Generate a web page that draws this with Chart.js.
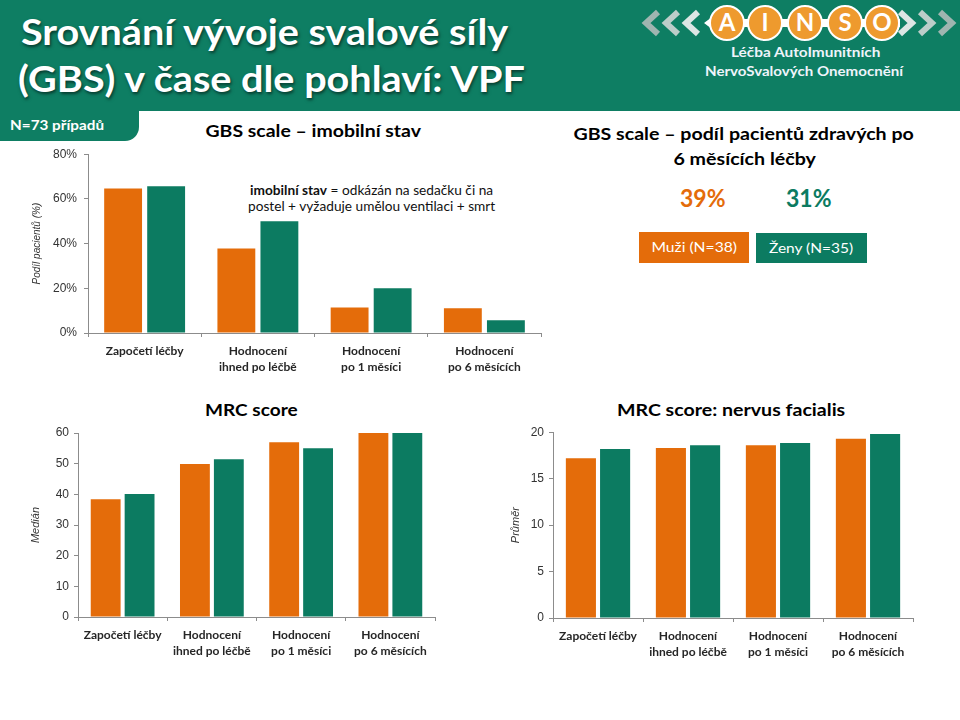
<!DOCTYPE html>
<html>
<head>
<meta charset="utf-8">
<script src="https://cdn.jsdelivr.net/npm/chart.js@4"></script>
<style>
  html,body{margin:0;padding:0;}
  body{width:960px;height:720px;position:relative;background:#fff;overflow:hidden;font-family:Lato,"Liberation Sans",sans-serif;}
  .abs{position:absolute;}
  .t{position:absolute;white-space:nowrap;line-height:1;transform-origin:50% 50%;}
  canvas{position:absolute;}
</style>
</head>
<body>
<div class="abs" style="left:0;top:0;width:960px;height:111px;background:#0E7E63;"></div>
<div class="abs" style="left:0;top:100px;width:139px;height:41px;background:#0E7E63;border-bottom-right-radius:14px;"></div>

<svg class="abs" style="left:620px;top:0" width="340" height="46">
  <g fill="none" stroke-width="6" stroke-linejoin="miter">
    <polyline points="38,12 26,23 38,34" stroke="#9fb5b0"/>
    <polyline points="58,12 46,23 58,34" stroke="#bccdc9"/>
    <polyline points="78,12 66,23 78,34" stroke="#dce6e4"/>
    <polyline points="280,12 292,23 280,34" stroke="#dce6e4"/>
    <polyline points="300,12 312,23 300,34" stroke="#bccdc9"/>
    <polyline points="320,12 332,23 320,34" stroke="#9fb5b0"/>
  </g>
  <polygon points="84,23 96,14 96,19 280,19 280,27 96,27 96,32" fill="#ffffff"/>
  <g stroke="#ffffff" stroke-width="2" fill="#EE9A2E">
    <circle cx="107" cy="23" r="17"/>
    <circle cx="145" cy="23" r="17"/>
    <circle cx="185" cy="23" r="17"/>
    <circle cx="225" cy="23" r="17"/>
    <circle cx="262" cy="23" r="17"/>
  </g>
  <g fill="#ffffff" font-family="Lato" font-weight="bold" font-size="24" text-anchor="middle">
    <text x="107" y="31">A</text>
    <text x="145" y="31">I</text>
    <text x="185" y="31">N</text>
    <text x="225" y="31">S</text>
    <text x="262" y="31">O</text>
  </g>
</svg>

<div id="texts"></div>

<canvas id="c1" width="560" height="240" style="left:0;top:140px;"></canvas>
<canvas id="c2" width="460" height="250" style="left:0;top:420px;"></canvas>
<canvas id="c3" width="480" height="250" style="left:480px;top:420px;"></canvas>

<script>
// ---------- data ----------
const categories = [["Započetí léčby"], ["Hodnocení", "ihned po léčbě"], ["Hodnocení", "po 1 měsíci"], ["Hodnocení", "po 6 měsících"]];
const seriesNames = ["Muži (N=38)", "Ženy (N=35)"];
const gbsMen   = [64.7, 37.8, 11.4, 11.1];
const gbsWomen = [65.7, 50.0, 20.0, 5.7];
const mrcMen   = [38.4, 49.9, 57.0, 60.0];
const mrcWomen = [40.1, 51.4, 55.0, 60.0];
const facMen   = [17.2, 18.3, 18.6, 19.3];
const facWomen = [18.2, 18.6, 18.85, 19.8];
const healthyShare = ["39%", "31%"];

const ORANGE = "#E46C0A";
const GREEN = "#0C7B61";
const AXIS = "#8c8c8c";

// ---------- html texts ----------
const host = document.getElementById('texts');
function txt(html, cx, cy, w, size, opts) {
  opts = opts || {};
  const d = document.createElement('div');
  d.className = 't';
  d.innerHTML = html;
  d.style.fontSize = size + 'px';
  d.style.fontWeight = opts.weight || 'normal';
  d.style.color = opts.color || '#000';
  d.style.fontFamily = opts.family || 'Lato';
  if (opts.shadow) d.style.textShadow = opts.shadow;
  host.appendChild(d);
  const ow = d.offsetWidth, oh = d.offsetHeight;
  d.style.left = (cx - ow / 2) + 'px';
  d.style.top = (cy - oh / 2) + 'px';
  const s = w ? w / ow : 1;
  d.style.transform = 'scaleX(' + s + ')';
  return d;
}
const SH = '1px 2px 3px rgba(0,0,0,0.55)';
txt('Srovnání vývoje svalové síly', 264, 31, 487, 36, {weight:'bold', color:'#fff', shadow:SH});
txt('(GBS) v čase dle pohlaví: VPF', 271, 78, 507, 36, {weight:'bold', color:'#fff', shadow:SH});
txt('Léčba AutoImunitních', 805, 53, 149, 12.5, {weight:'bold', color:'#eef4fb'});
txt('NervoSvalových Onemocnění', 804, 72, 198, 12.5, {weight:'bold', color:'#eef4fb'});
txt('N=73 případů', 57, 125, 94, 13, {weight:'bold', color:'#fff'});

txt('GBS scale – imobilní stav', 313, 130, 215, 17, {weight:'bold', color:'#000'});
txt('<b>imobilní stav</b> = odkázán na sedačku či na', 371.5, 190, 243, 13, {color:'#111'});
txt('postel + vyžaduje umělou ventilaci + smrt', 371.5, 206, 247, 13, {color:'#111'});

txt('GBS scale – podíl pacientů zdravých po', 743, 133, 340, 17, {weight:'bold', color:'#000'});
txt('6 měsících léčby', 744, 158, 142, 17, {weight:'bold', color:'#000'});
txt(healthyShare[0], 703, 198, 46, 24, {weight:'bold', color:ORANGE});
txt(healthyShare[1], 809, 198, 46, 24, {weight:'bold', color:GREEN});

const b1 = document.createElement('div'); b1.className='abs';
b1.style.cssText = 'left:639px;top:232px;width:110px;height:31px;background:' + ORANGE;
host.appendChild(b1);
const b2 = document.createElement('div'); b2.className='abs';
b2.style.cssText = 'left:756px;top:233px;width:111px;height:30px;background:' + GREEN;
host.appendChild(b2);
txt(seriesNames[0], 693.5, 247, 85, 14, {color:'#fff'});
txt(seriesNames[1], 811, 248, 84, 14, {color:'#fff'});

txt('MRC score', 251, 409, 93, 17, {weight:'bold', color:'#000'});
txt('MRC score: nervus facialis', 731, 409, 228, 17, {weight:'bold', color:'#000'});

// ---------- charts ----------
function makeChart(id, men, women, cfg) {
  return new Chart(document.getElementById(id), {
    type: 'bar',
    data: {
      labels: categories,
      datasets: [
        {label: seriesNames[0], data: men, backgroundColor: ORANGE, categoryPercentage: 0.76, barPercentage: 0.88},
        {label: seriesNames[1], data: women, backgroundColor: GREEN, categoryPercentage: 0.76, barPercentage: 0.88}
      ]
    },
    options: {
      responsive: false,
      animation: false,
      devicePixelRatio: 1,
      layout: {padding: {left: cfg.padL, right: cfg.padR, top: cfg.padT, bottom: 0}},
      plugins: {legend: {display: false}, tooltip: {enabled: false}},
      scales: {
        x: {
          grid: {display: true, drawOnChartArea: false, drawTicks: true, tickLength: 4, color: AXIS, offset: true},
          border: {display: true, color: AXIS},
          ticks: {font: {family: 'Lato', size: 12, weight: 'bold', lineHeight: 1.35}, color: '#262626', padding: 6, maxRotation: 0, autoSkip: false},
          afterFit(s) { s.height = cfg.xH; }
        },
        y: {
          min: 0, max: cfg.max,
          ticks: {stepSize: cfg.step, callback: cfg.fmt, font: {family: 'Liberation Sans', size: 12}, color: '#333', padding: cfg.tickPad},
          grid: {drawOnChartArea: false, drawTicks: true, tickLength: 4, color: AXIS},
          border: {display: true, color: AXIS},
          title: {display: true, text: cfg.title, font: {family: 'Liberation Sans', size: cfg.titleSize, style: 'italic'}, color: '#333', padding: 0},
          afterFit(s) { s.width = cfg.axisW; }
        }
      }
    }
  });
}

makeChart('c1', gbsMen, gbsWomen, {padL: 31, padR: 19, padT: 12, xH: 47, axisW: 57, max: 80, step: 20, fmt: v => v + '%', title: 'Podíl pacientů (%)', titleSize: 10, tickPad: 7});
makeChart('c2', mrcMen, mrcWomen, {padL: 29, padR: 25, padT: 13, xH: 53, axisW: 49, max: 60, step: 10, fmt: v => v, title: 'Medián', titleSize: 11, tickPad: 5});
makeChart('c3', facMen, facWomen, {padL: 29, padR: 47, padT: 12, xH: 52, axisW: 44, max: 20, step: 5, fmt: v => v, title: 'Průměr', titleSize: 11, tickPad: 5});
</script>
</body>
</html>
